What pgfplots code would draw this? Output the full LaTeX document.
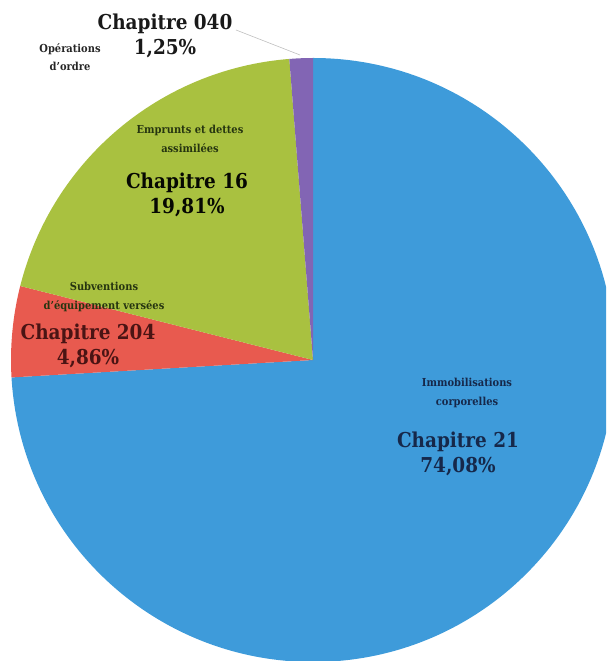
\documentclass[border=0pt]{standalone}
\usepackage{pgfplots}
\usepackage{pgfplotstable}
\usepackage{fontspec}
\pgfplotsset{compat=1.18}
\setmainfont{DejaVu Serif Condensed}

\definecolor{c0}{HTML}{3E9BDA}
\definecolor{c1}{HTML}{E85A4F}
\definecolor{c2}{HTML}{A9C140}
\definecolor{c3}{HTML}{8265B4}
\definecolor{navy}{HTML}{16284A}
\definecolor{maroon}{HTML}{4A1414}
\definecolor{olive}{HTML}{263510}

% parts in %, clockwise from the top
\pgfplotstableread{
chap pct
21   74.08
204  4.86
16   19.81
040  1.25
}\parts

\tikzset{
  labbig/.style={align=center, inner sep=0pt, font=\fontsize{20.5}{25}\selectfont\bfseries},
  labsmall/.style={align=center, inner sep=0pt, font=\fontsize{11}{18.5}\selectfont\bfseries}}

\begin{document}
\begin{tikzpicture}
\begin{axis}[
  x=1pt, y=1pt,
  xmin=0, xmax=606, ymin=0, ymax=661,
  hide axis, clip=true]
  \addplot[draw=none] coordinates {(0,0) (606,661)};
  \xdef\cum{90}
  \pgfplotsinvokeforeach{0,...,3}{
    \pgfplotstablegetelem{#1}{pct}\of\parts
    \pgfmathparse{\cum-3.6*\pgfplotsretval}
    \xdef\nxt{\pgfmathresult}
    \edef\doit{\noexpand\fill[c#1] (313,301) -- ++(\cum:302pt)
      arc[start angle=\cum, end angle=\nxt, radius=302pt] -- cycle;}
    \doit
    \xdef\cum{\nxt}
  }
  \draw[gray!50, line width=0.6pt] (236,631) -- (300,606);

  \node[labsmall, text=black!85] at (70,604) {Opérations\\d'ordre};
  \node[labbig, text=black!90] at (165,625) {Chapitre 040\\1,25\%};

  \node[labsmall, text=olive] at (190,522) {Emprunts et dettes\\assimilées};
  \node[labbig, text=black!85!olive] at (187,466) {Chapitre 16\\19,81\%};

  \node[labsmall, text=olive] at (104,364) {Subventions\\d'équipement versées};
  \node[labbig, text=maroon] at (88,315) {Chapitre 204\\4,86\%};

  \node[labsmall, text=navy] at (467,268) {Immobilisations\\corporelles};
  \node[labbig, text=navy] at (458,207) {Chapitre 21\\74,08\%};
\end{axis}
\end{tikzpicture}
\end{document}
